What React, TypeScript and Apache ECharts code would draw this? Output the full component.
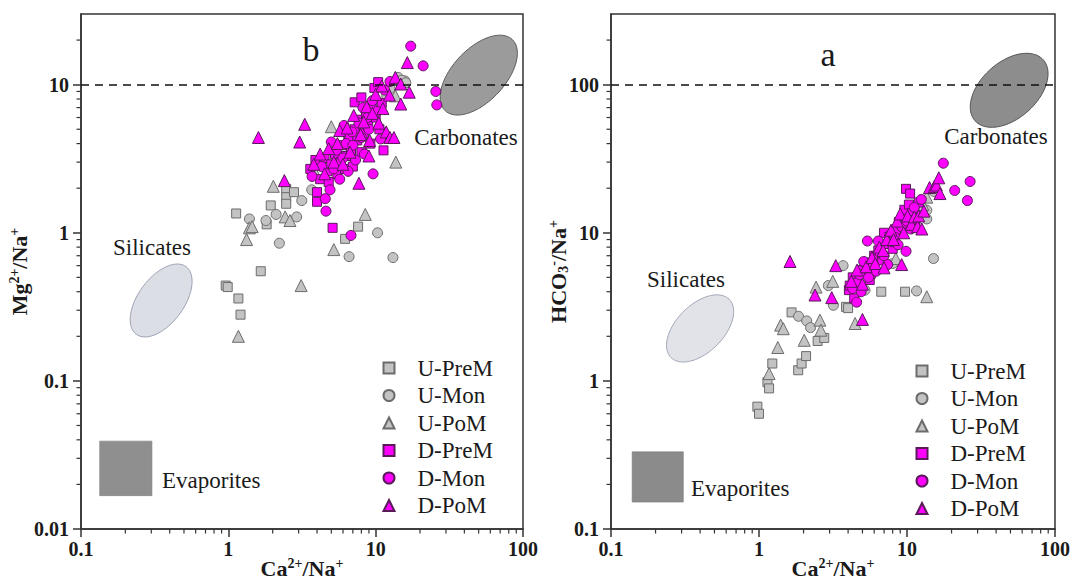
import React, { useEffect, useRef } from 'react';
import * as echarts from 'echarts';

const FONT = "'Liberation Serif','Times New Roman',Times,serif";

const seriesNames = ['U-PreM', 'U-Mon', 'U-PoM', 'D-PreM', 'D-Mon', 'D-PoM'];
const seriesShapes = ['rect', 'circle', 'triangle', 'rect', 'circle', 'triangle'];

const xTicks = [0.1, 1, 10, 100];
const yTicksB = [0.01, 0.1, 1, 10];
const yTicksA = [0.1, 1, 10, 100];
const minorX = [0.2, 0.3, 0.4, 0.5, 0.6, 0.7, 0.8, 0.9, 2, 3, 4, 5, 6, 7, 8, 9, 20, 30, 40, 50, 60, 70, 80, 90];
const minorYB = [0.02, 0.03, 0.04, 0.05, 0.06, 0.07, 0.08, 0.09, 0.2, 0.3, 0.4, 0.5, 0.6, 0.7, 0.8, 0.9, 2, 3, 4, 5, 6, 7, 8, 9, 20];
const minorYA = [0.2, 0.3, 0.4, 0.5, 0.6, 0.7, 0.8, 0.9, 2, 3, 4, 5, 6, 7, 8, 9, 20, 30, 40, 50, 60, 70, 80, 90, 200];

// Panel b: [Ca2+/Na+, Mg2+/Na+]
const bUPreM = [[0.96,0.44],[0.99,0.43],[1.13,1.35],[1.17,0.36],[1.21,0.28],[1.66,0.55],[1.82,1.14],[1.94,1.53],[2.47,1.98],[2.47,1.74],[2.47,1.57],[2.79,1.88],[3.75,2.5],[6.2,0.91],[7.6,1.1],[6.5,4.2]];
const bUMon = [[1.39,1.24],[1.8,1.21],[2.11,1.33],[2.22,0.85],[2.91,1.28],[3.15,1.65],[3.68,1.95],[6.6,0.69],[10.3,1.0],[13.1,0.68],[11.9,8.4],[12.5,9.4],[14.2,11.2],[15.8,10.6],[15.0,10.7],[16.0,10.3]];
const bUPoM = [[1.17,0.2],[1.33,0.9],[1.39,1.08],[1.45,1.1],[2.02,2.06],[2.43,1.28],[2.62,1.21],[3.12,0.44],[3.85,2.6],[5.0,5.2],[5.2,0.77],[8.5,1.33],[13.7,3.0],[13.6,8.4]];
const bDPreM = [[3.6,2.7],[3.9,3.1],[4.0,1.88],[4.0,1.62],[4.2,2.3],[4.5,3.2],[4.7,2.6],[4.8,2.2],[5.0,2.9],[5.1,1.08],[5.3,3.4],[5.5,2.5],[5.8,3.0],[6.0,3.9],[6.2,2.7],[6.3,3.3],[6.6,4.4],[6.8,3.6],[7.0,2.8],[7.2,5.0],[7.2,7.6],[7.5,4.2],[7.8,5.8],[8.0,3.5],[8.0,8.2],[8.3,4.7],[8.6,6.2],[8.9,5.3],[9.2,4.0],[9.4,7.0],[9.8,9.5],[10.0,6.0],[10.4,10.4],[10.6,5.0],[11.0,7.5],[11.3,3.6]];
const bDMon = [[3.7,2.4],[4.3,2.8],[4.55,1.7],[4.6,1.4],[4.9,1.95],[5.0,4.1],[5.2,2.7],[5.4,3.6],[5.7,2.3],[6.0,3.2],[6.1,5.3],[6.3,4.0],[6.5,2.6],[6.8,0.96],[6.9,4.8],[7.0,3.9],[7.3,3.1],[7.7,5.5],[8.0,4.4],[8.2,7.0],[8.4,3.4],[8.8,6.0],[9.0,5.0],[9.5,7.8],[9.6,2.5],[10.2,6.6],[10.8,4.3],[11.5,9.2],[12.5,10.5],[17.3,18.2],[21.0,13.4],[25.6,9.0],[26.0,7.3]];
const bDPoM = [[1.6,4.4],[2.4,2.25],[3.05,4.1],[3.3,5.4],[3.8,2.9],[4.2,3.4],[4.5,2.5],[4.8,3.7],[5.2,3.0],[5.5,4.0],[5.7,4.9],[6.0,2.9],[6.4,5.1],[6.7,3.5],[7.1,6.2],[7.7,2.16],[7.9,4.6],[8.3,5.6],[8.7,7.1],[9.0,3.3],[9.1,4.2],[9.5,6.4],[10.0,8.6],[10.5,5.5],[11.0,9.8],[11.2,6.9],[11.8,4.8],[12.4,8.5],[12.5,4.4],[13.3,4.4],[13.6,11.2],[14.8,10.1],[14.8,7.4],[16.4,14.1],[16.9,8.9]];

// Panel a: [Ca2+/Na+, HCO3-/Na+]
const aUPreM = [[0.975,0.67],[1.0,0.6],[1.14,0.98],[1.17,0.89],[1.23,1.31],[1.66,2.9],[1.84,1.18],[1.94,1.31],[2.08,1.47],[2.49,1.86],[2.76,1.95],[3.87,3.16],[4.0,3.1],[6.7,4.0],[9.7,4.0]];
const aUMon = [[1.85,2.73],[2.1,2.54],[2.23,2.29],[2.94,4.4],[3.18,3.24],[3.7,6.0],[5.2,4.1],[8.0,6.2],[11.6,4.05],[12.5,15.0],[13.6,12.4],[13.6,14.2],[15.1,6.7],[15.2,19.0]];
const aUPoM = [[1.17,1.12],[1.34,1.68],[1.4,2.38],[1.46,2.25],[2.02,1.88],[2.43,4.3],[2.58,2.57],[2.62,2.2],[3.15,4.7],[4.46,2.44],[8.4,6.7],[12.8,15.5],[13.6,3.7],[13.6,17.4]];
const aDPreM = [[4.05,4.1],[4.1,4.4],[4.3,5.0],[4.4,3.6],[4.6,4.6],[5.0,5.6],[5.3,6.3],[5.6,4.8],[5.7,5.3],[6.0,7.0],[6.4,7.6],[6.8,6.5],[7.0,10.0],[7.2,8.4],[7.6,9.4],[8.0,7.8],[8.4,10.5],[8.8,11.8],[9.3,12.6],[9.6,14.3],[9.85,19.8],[10.3,15.5],[10.5,18.4],[10.8,13.6],[11.4,12.2],[12.0,16.0]];
const aDMon = [[4.3,4.2],[4.57,3.4],[4.8,5.2],[4.9,4.0],[5.1,6.4],[5.4,8.8],[5.5,5.0],[5.9,6.0],[6.2,5.5],[6.4,8.8],[6.6,7.3],[7.0,7.0],[7.4,6.1],[7.9,8.7],[8.3,9.3],[8.7,8.3],[9.2,11.0],[9.85,7.5],[10.0,12.0],[10.6,10.6],[11.2,14.8],[12.5,16.8],[17.6,29.5],[21.0,19.3],[25.6,16.5],[26.7,22.2]];
const aDPoM = [[1.62,6.4],[2.39,3.8],[3.1,3.65],[3.3,6.0],[4.2,4.7],[4.6,5.6],[5.0,2.6],[5.0,4.5],[5.3,5.9],[5.8,6.8],[6.1,6.2],[6.5,8.0],[6.9,7.6],[7.0,5.8],[7.3,9.0],[7.8,10.4],[8.1,9.0],[8.6,12.0],[9.0,13.4],[9.2,6.1],[9.5,10.0],[10.1,13.0],[10.7,11.4],[11.2,12.8],[11.8,11.0],[12.0,13.0],[12.6,10.6],[13.0,14.0],[14.2,20.2],[15.3,20.5],[15.8,21.0],[16.4,23.5],[16.7,18.4]];

// End-member fields (data units; ellipse semi-axes in decades)
const regionsB = [
  { kind: 'ellipse', cx: 0.35, cy: 0.349, a: 0.284, b: 0.155, angle: 53.5, fill: '#dcdee5', stroke: '#9da2b4' },
  { kind: 'ellipse', cx: 50.1, cy: 11.6, a: 0.331, b: 0.178, angle: 46.5, fill: '#9b9b9b', stroke: '#5c5c5c' },
  { kind: 'rect', x0: 0.134, x1: 0.303, y0: 0.0168, y1: 0.0392, fill: '#8f8f8f', stroke: '#7c7c7c' },
];
const regionsA = [
  { kind: 'ellipse', cx: 0.4, cy: 2.26, a: 0.278, b: 0.16, angle: 45, fill: '#e1e3e9', stroke: '#a3a8b8' },
  { kind: 'ellipse', cx: 49, cy: 91.6, a: 0.309, b: 0.19, angle: 41.8, fill: '#8d8d8d', stroke: '#555555' },
  { kind: 'rect', x0: 0.139, x1: 0.308, y0: 0.152, y1: 0.332, fill: '#8b8b8b', stroke: '#7a7a7a' },
];

const panelB = [bUPreM, bUMon, bUPoM, bDPreM, bDMon, bDPoM];
const panelA = [aUPreM, aUMon, aUPoM, aDPreM, aDMon, aDPoM];

const fmt = (v: number) => String(Number(v.toPrecision(3)));

const rich = {
  m: { fontFamily: FONT, fontWeight: 'bold', fontSize: 22, color: '#1a1a1a', lineHeight: 24, verticalAlign: 'middle' },
  sp: { fontFamily: FONT, fontWeight: 'bold', fontSize: 14, color: '#1a1a1a', lineHeight: 14, verticalAlign: 'top' },
  sb: { fontFamily: FONT, fontWeight: 'bold', fontSize: 14, color: '#1a1a1a', lineHeight: 14, verticalAlign: 'bottom' },
};

function makeXAxis(gi: number) {
  return {
    gridIndex: gi, type: 'log', logBase: 10, min: 0.1, max: 100,
    axisLine: { show: true, onZero: false, lineStyle: { color: '#333', width: 1.5 } },
    axisTick: { show: true, inside: false, length: 8, customValues: xTicks, lineStyle: { color: '#333', width: 1.5 } },
    axisLabel: { customValues: xTicks, formatter: fmt, fontFamily: FONT, fontWeight: 'bold', fontSize: 20, color: '#1a1a1a', margin: 10 },
    splitLine: { show: false }, minorTick: { show: false },
    name: '{m|Ca}{sp|2+}{m|/Na}{sp|+}', nameLocation: 'middle', nameGap: 27, nameMoveOverlap: false,
    nameTextStyle: { rich },
  };
}

function makeYAxis(gi: number, min: number, max: number, ticks: number[], name: string, gap: number) {
  return {
    gridIndex: gi, type: 'log', logBase: 10, min, max,
    axisLine: { show: true, onZero: false, lineStyle: { color: '#333', width: 1.5 } },
    axisTick: { show: true, inside: false, length: 8, customValues: ticks, lineStyle: { color: '#333', width: 1.5 } },
    axisLabel: { customValues: ticks, formatter: fmt, fontFamily: FONT, fontWeight: 'bold', fontSize: 20, color: '#1a1a1a', margin: 12 },
    splitLine: { show: false }, minorTick: { show: false },
    name, nameLocation: 'middle', nameRotate: 90, nameGap: gap, nameMoveOverlap: false,
    nameTextStyle: { rich },
  };
}

function regionSeries(gi: number, regions: any[]) {
  return {
    type: 'custom', xAxisIndex: gi, yAxisIndex: gi, silent: true, z: 1, clip: false,
    data: regions.map((r) => (r.kind === 'rect' ? [r.x0, r.y0] : [r.cx, r.cy])),
    renderItem: (params: any, api: any) => {
      const r = regions[params.dataIndex];
      if (r.kind === 'rect') {
        const p0 = api.coord([r.x0, r.y1]);
        const p1 = api.coord([r.x1, r.y0]);
        return { type: 'rect', shape: { x: p0[0], y: p0[1], width: p1[0] - p0[0], height: p1[1] - p0[1] }, style: { fill: r.fill, stroke: r.stroke, lineWidth: 0.6 } };
      }
      const lx0 = Math.log10(r.cx), ly0 = Math.log10(r.cy);
      const th = (r.angle * Math.PI) / 180;
      const pts: number[][] = [];
      for (let k = 0; k < 90; k++) {
        const t = (2 * Math.PI * k) / 90;
        const lx = lx0 + r.a * Math.cos(th) * Math.cos(t) - r.b * Math.sin(th) * Math.sin(t);
        const ly = ly0 + r.a * Math.sin(th) * Math.cos(t) + r.b * Math.cos(th) * Math.sin(t);
        pts.push(api.coord([Math.pow(10, lx), Math.pow(10, ly)]));
      }
      return { type: 'polygon', shape: { points: pts }, style: { fill: r.fill, stroke: r.stroke, lineWidth: 1 } };
    },
  };
}

function tickSeries(gi: number, xMin: number, yMin: number, xs: number[], ys: number[]) {
  return {
    type: 'custom', xAxisIndex: gi, yAxisIndex: gi, silent: true, z: 6, clip: false,
    data: [...xs.map((v) => [v, yMin, 0]), ...ys.map((v) => [xMin, v, 1])],
    encode: { x: 0, y: 1 },
    renderItem: (params: any, api: any) => {
      const p = api.coord([api.value(0), api.value(1)]);
      const horiz = api.value(2) === 1;
      const shape = horiz
        ? { x1: p[0] - 4.5, y1: p[1], x2: p[0], y2: p[1] }
        : { x1: p[0], y1: p[1], x2: p[0], y2: p[1] + 4.5 };
      return { type: 'line', shape, style: { stroke: '#333', lineWidth: 1.2 } };
    },
  };
}

function scatterSeries(gi: number, sets: number[][][], refY: number) {
  return sets.map((d, i) => {
    const isD = i >= 3;
    const shape = seriesShapes[i];
    const size = shape === 'triangle' ? 12 : shape === 'circle' ? 10 : 9;
    const s: any = {
      type: 'scatter', name: seriesNames[i], xAxisIndex: gi, yAxisIndex: gi, z: 3,
      symbol: shape, symbolSize: size, data: d,
      itemStyle: { color: isD ? '#ff00ff' : '#c3c3c3', borderColor: isD ? '#5a1a5a' : '#6c6c6c', borderWidth: 1, opacity: 1 },
      emphasis: { disabled: true },
    };
    if (i === 0) {
      s.markLine = {
        silent: true, symbol: ['none', 'none'], label: { show: false },
        lineStyle: { type: [8, 6], color: '#111', width: 1.6 },
        data: [{ yAxis: refY }],
      };
    }
    return s;
  });
}

function legendFor(left: number, top: number) {
  return {
    data: seriesNames.map((n, i) => ({ name: n, icon: seriesShapes[i] })),
    orient: 'vertical', left, top, padding: 0, itemWidth: 11, itemHeight: 11, itemGap: 4.5,
    selectedMode: false,
    textStyle: { fontFamily: FONT, fontSize: 23, color: '#1a1a1a', lineHeight: 23, padding: [0, 0, 0, 18] },
  };
}

function label(x: number, y: number, text: string, size: number, align = 'center') {
  return {
    type: 'text', x, y, silent: true, z: 10,
    style: { text, fill: '#1a1a1a', fontFamily: FONT, fontSize: size, align, verticalAlign: 'middle', textAlign: align, textVerticalAlign: 'middle' },
  };
}

const gridBase = { top: 14, height: 515, show: true, borderColor: '#333', borderWidth: 1.5, backgroundColor: 'transparent', containLabel: false, outerBoundsMode: 'none' };

export default function App() {
  const ref = useRef<HTMLDivElement>(null);
  useEffect(() => {
    if (!ref.current) return;
    const chart = echarts.init(ref.current, undefined, { renderer: 'svg' });
    chart.setOption({
      animation: false,
      backgroundColor: '#ffffff',
      textStyle: { fontFamily: FONT },
      grid: [
        { ...gridBase, left: 81, width: 442 },
        { ...gridBase, left: 611, width: 444 },
      ],
      xAxis: [makeXAxis(0), makeXAxis(1)],
      yAxis: [
        makeYAxis(0, 0.01, 30, yTicksB, '{m|Mg}{sp|2+}{m|/Na}{sp|+}', 50),
        makeYAxis(1, 0.1, 300, yTicksA, '{m|HCO}{sb|3}{sp|-}{m|/Na}{sp|+}', 41),
      ],
      legend: [legendFor(382.5, 356.5), legendFor(915.5, 359.5)],
      series: [
        regionSeries(0, regionsB),
        regionSeries(1, regionsA),
        tickSeries(0, 0.1, 0.01, minorX, minorYB),
        tickSeries(1, 0.1, 0.1, minorX, minorYA),
        ...scatterSeries(0, panelB, 10),
        ...scatterSeries(1, panelA, 100),
      ],
      graphic: [
        label(311, 49, 'b', 34),
        label(466, 137, 'Carbonates', 23),
        label(152, 247, 'Silicates', 23),
        label(162, 480, 'Evaporites', 23, 'left'),
        label(828, 54, 'a', 34),
        label(996, 136, 'Carbonates', 23),
        label(686, 279, 'Silicates', 23),
        label(691, 488, 'Evaporites', 23, 'left'),
      ],
    });
    return () => chart.dispose();
  }, []);
  return <div ref={ref} style={{ position: 'absolute', left: 0, top: 0, width: 1070, height: 584 }} />;
}
